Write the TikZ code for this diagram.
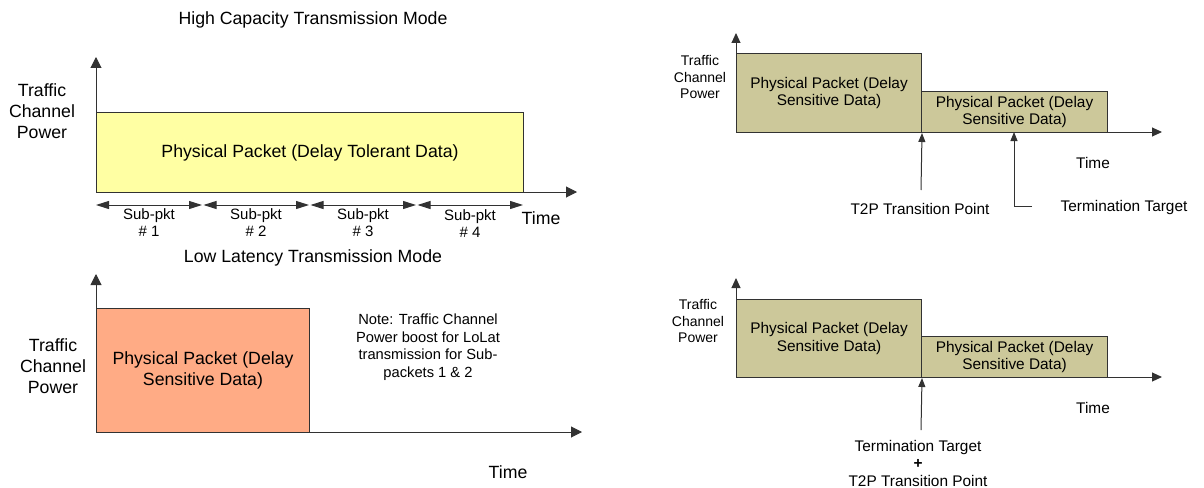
\documentclass[tikz,border=0pt]{standalone}
\usepackage{fontspec}
\setmainfont{Liberation Sans}
\usetikzlibrary{arrows.meta}
\definecolor{hcyellow}{RGB}{255,255,163}
\definecolor{llorange}{RGB}{255,171,133}
\definecolor{olivebox}{RGB}{204,200,154}
\definecolor{linegray}{RGB}{50,50,50}
\newcommand\FBig{\fontsize{17.7}{21}\selectfont}
\newcommand\FNote{\fontsize{14.7}{17.5}\selectfont}
\newcommand\FSub{\fontsize{15}{17}\selectfont}
\newcommand\FRight{\fontsize{15.4}{17.5}\selectfont}
\newcommand\FTcp{\fontsize{14}{16.5}\selectfont}
\begin{document}
\begin{tikzpicture}[x=1pt,y=-1pt,line width=1pt,
  axisline/.style={draw=linegray,-{Triangle[length=11pt,width=11pt]}},
  raxisline/.style={draw=linegray,-{Triangle[length=10pt,width=9pt]}},
  subarrow/.style={draw=linegray,{Triangle[length=13pt,width=8pt]}-{Triangle[length=13pt,width=8pt]}},
  ptr/.style={draw=linegray,-{Triangle[length=9pt,width=7pt]}},
  pbox/.style={draw=linegray,anchor=north west,inner sep=0pt,align=center},
  lbl/.style={inner sep=0pt,align=center}]
\useasboundingbox (0,0) rectangle (1204,487);

% ---------- High capacity ----------
\node[lbl,font=\FBig] (t1) at (313,20) {High Capacity Transmission Mode};
\coordinate (o1) at (96,192);
\coordinate (y1) at (96,57);
\coordinate (x1) at (577,192);
\node[pbox,fill=hcyellow,minimum width=427pt,minimum height=80pt,font=\FBig] (hc) at (96,112) {Physical Packet (Delay Tolerant Data)};
\draw[axisline] (o1) -- (y1);
\draw[axisline] (o1) -- (x1);
\node[lbl,font=\FBig] (tcp1) at (42,111) {Traffic\\Channel\\Power};
\node[lbl,font=\FBig] (time1) at (541,218) {Time};
\coordinate (s0) at (96,205);
\coordinate (s1a) at (202,205);
\coordinate (s1b) at (203.5,205);
\coordinate (s2a) at (309,205);
\coordinate (s2b) at (310.5,205);
\coordinate (s3a) at (416,205);
\coordinate (s3b) at (417.5,205);
\coordinate (s4) at (523,205);
\draw[subarrow] (s0) -- (s1a);
\draw[subarrow] (s1b) -- (s2a);
\draw[subarrow] (s2b) -- (s3a);
\draw[subarrow] (s3b) -- (s4);
\node[lbl,font=\FSub] (sp1) at (149,223) {Sub-pkt\\\# 1};
\node[lbl,font=\FSub] (sp2) at (256,223) {Sub-pkt\\\# 2};
\node[lbl,font=\FSub] (sp3) at (363,223) {Sub-pkt\\\# 3};
\node[lbl,font=\FSub] (sp4) at (470,224) {Sub-pkt\\\# 4};

% ---------- Low latency ----------
\node[lbl,font=\FBig] (t2) at (313,258) {Low Latency Transmission Mode};
\coordinate (o2) at (96,432);
\coordinate (y2) at (96,274);
\coordinate (x2) at (582,432);
\node[pbox,fill=llorange,minimum width=213pt,minimum height=124pt,font=\FBig] (ll) at (96,308) {Physical Packet (Delay\\Sensitive Data)};
\draw[axisline] (o2) -- (y2);
\draw[axisline] (o2) -- (x2);
\node[lbl,font=\FBig] (tcp2) at (53,366) {Traffic\\Channel\\Power};
\node[lbl,font=\FNote] (note) at (428,347) {Note: Traffic Channel\\Power boost for LoLat\\transmission for Sub-\\packets 1 \& 2};
\node[lbl,font=\FBig] (time2) at (508,472) {Time};

% ---------- Right top ----------
\coordinate (o3) at (736,132);
\coordinate (y3) at (736,33);
\coordinate (x3) at (1162,132);
\node[pbox,fill=olivebox,minimum width=185pt,minimum height=79pt,font=\FRight] (ra1) at (736,53) {Physical Packet (Delay\\Sensitive Data)};
\node[pbox,fill=olivebox,minimum width=186pt,minimum height=41pt,font=\FRight] (ra2) at (921,91) {Physical Packet (Delay\\Sensitive Data)};
\draw[raxisline] (o3) -- (y3);
\draw[raxisline] (o3) -- (x3);
\node[lbl,font=\FTcp] (tcp3) at (700,77) {Traffic\\Channel\\Power};
\node[lbl,font=\FRight] (time3) at (1093,163) {Time};
\coordinate (t2pa) at (921,190);
\draw[ptr] (t2pa) -- (ra1.south east);
\node[lbl,font=\FRight] (t2ptxt) at (920,209) {T2P Transition Point};
\coordinate (tta) at (1032,206);
\coordinate (ttb) at (1014,206);
\coordinate (ttc) at (1014,132);
\draw[ptr] (tta) -- (ttb) -- (ttc);
\node[lbl,font=\FRight] (tttxt) at (1124,208) {Termination Target};

% ---------- Right bottom ----------
\coordinate (o4) at (736,377);
\coordinate (y4) at (736,278);
\coordinate (x4) at (1162,377);
\node[pbox,fill=olivebox,minimum width=185pt,minimum height=78pt,font=\FRight] (rb1) at (736,299) {Physical Packet (Delay\\Sensitive Data)};
\node[pbox,fill=olivebox,minimum width=186pt,minimum height=41pt,font=\FRight] (rb2) at (921,336) {Physical Packet (Delay\\Sensitive Data)};
\draw[raxisline] (o4) -- (y4);
\draw[raxisline] (o4) -- (x4);
\node[lbl,font=\FTcp] (tcp4) at (698,321) {Traffic\\Channel\\Power};
\node[lbl,font=\FRight] (time4) at (1093,408) {Time};
\coordinate (tpa) at (921,430);
\draw[ptr] (tpa) -- (rb1.south east);
\node[lbl,font=\FRight] (tptxt) at (918,463) {Termination Target\\\textbf{+}\\T2P Transition Point};
\end{tikzpicture}
\end{document}
